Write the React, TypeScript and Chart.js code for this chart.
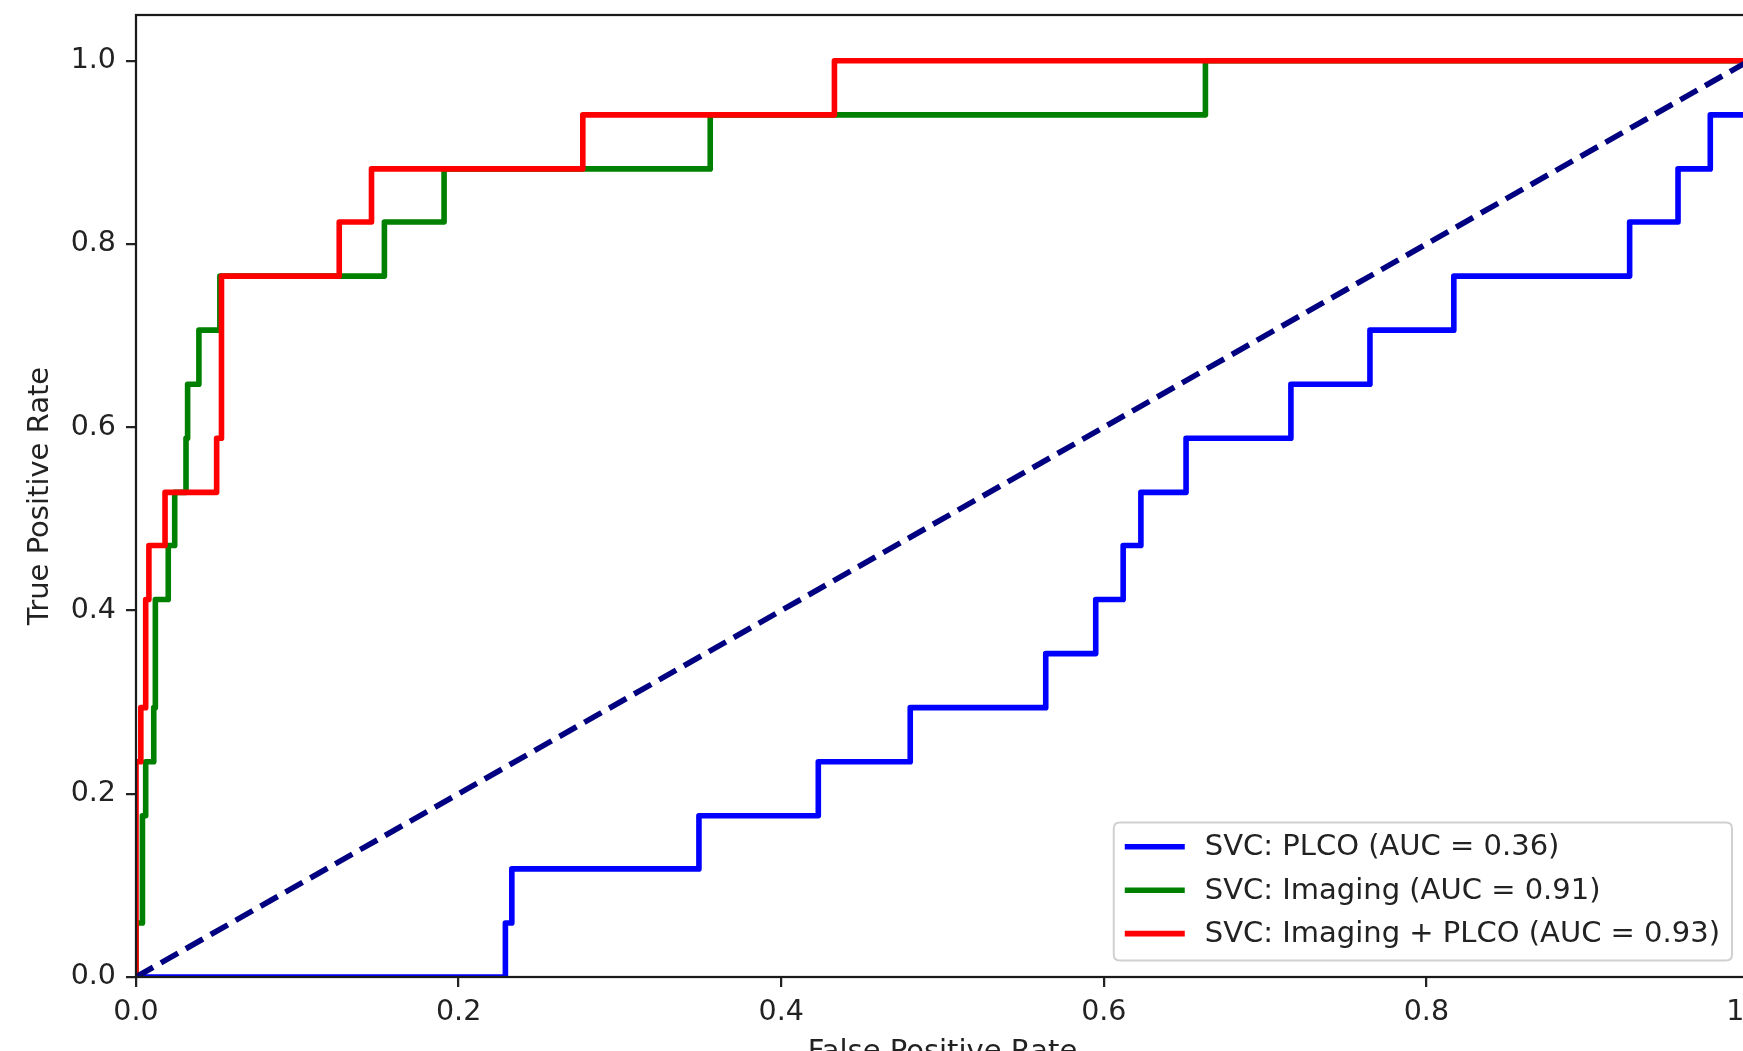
import React, { useEffect, useRef } from "react";
import { Chart, registerables } from "chart.js";

Chart.register(...registerables);

// ---- Data ----
const xTicks = [0, 0.2, 0.4, 0.6, 0.8, 1.0];
const yTicks = [0, 0.2, 0.4, 0.6, 0.8, 1.0];

const seriesLabels = [
  "SVC: PLCO (AUC = 0.36)",
  "SVC: Imaging (AUC = 0.91)",
  "SVC: Imaging + PLCO (AUC = 0.93)",
];
const seriesColors = ["#0000ff", "#008000", "#ff0000"];

const plcoFpr = [
  0, 0.229, 0.229, 0.233, 0.233, 0.349, 0.349, 0.423, 0.423, 0.48, 0.48, 0.564, 0.564,
  0.595, 0.595, 0.612, 0.612, 0.623, 0.623, 0.651, 0.651, 0.716, 0.716, 0.765, 0.765,
  0.817, 0.817, 0.926, 0.926, 0.956, 0.956, 0.976, 0.976, 1.0, 1.0,
];
const plcoTpr = [
  0, 0, 0.059, 0.059, 0.118, 0.118, 0.176, 0.176, 0.235, 0.235, 0.294, 0.294, 0.353,
  0.353, 0.412, 0.412, 0.471, 0.471, 0.529, 0.529, 0.588, 0.588, 0.647, 0.647, 0.706,
  0.706, 0.765, 0.765, 0.824, 0.824, 0.882, 0.882, 0.941, 0.941, 1.0,
];

const imagingFpr = [
  0, 0, 0.004, 0.004, 0.006, 0.006, 0.011, 0.011, 0.012, 0.012, 0.02, 0.02, 0.024, 0.024,
  0.031, 0.031, 0.032, 0.032, 0.039, 0.039, 0.052, 0.052, 0.154, 0.154, 0.191, 0.191,
  0.356, 0.356, 0.663, 0.663, 1.0,
];
const imagingTpr = [
  0, 0.059, 0.059, 0.176, 0.176, 0.235, 0.235, 0.294, 0.294, 0.412, 0.412, 0.471, 0.471,
  0.529, 0.529, 0.588, 0.588, 0.647, 0.647, 0.706, 0.706, 0.765, 0.765, 0.824, 0.824,
  0.882, 0.882, 0.941, 0.941, 1.0, 1.0,
];

const comboFpr = [
  0, 0, 0.003, 0.003, 0.006, 0.006, 0.008, 0.008, 0.018, 0.018, 0.05, 0.05, 0.053, 0.053,
  0.126, 0.126, 0.146, 0.146, 0.277, 0.277, 0.433, 0.433, 1.0,
];
const comboTpr = [
  0, 0.235, 0.235, 0.294, 0.294, 0.412, 0.412, 0.471, 0.471, 0.529, 0.529, 0.588, 0.588,
  0.765, 0.765, 0.824, 0.824, 0.882, 0.882, 0.941, 0.941, 1.0, 1.0,
];

const chanceFpr = [0, 1];
const chanceTpr = [0, 1];

const xTitle = "False Positive Rate";
const yTitle = "True Positive Rate";

const FONT = '"DejaVu Sans", "Liberation Sans", sans-serif';
const PX_PER_PT = 2.8;
const LW = 2 * PX_PER_PT;
const TICK_FONT = 28.5;
const LABEL_FONT = 29;

const toPoints = (xs: number[], ys: number[]) => xs.map((x, i) => ({ x, y: ys[i] }));

const framePlugin = {
  id: "mplFrame",
  afterDatasetsDraw(chart: any) {
    const { ctx, chartArea } = chart;
    ctx.save();
    ctx.strokeStyle = "#1a1a1a";
    ctx.lineWidth = 0.8 * PX_PER_PT;
    ctx.strokeRect(
      chartArea.left,
      chartArea.top,
      chartArea.right - chartArea.left,
      chartArea.bottom - chartArea.top
    );
    ctx.restore();
  },
};

const legendPlugin = {
  id: "mplLegend",
  afterDraw(chart: any) {
    const { ctx, chartArea } = chart;
    ctx.save();
    ctx.font = `${LABEL_FONT}px ${FONT}`;
    const textW = Math.max(...seriesLabels.map((t) => ctx.measureText(t).width));
    const padL = 11;
    const handleLen = 60;
    const gap = 20;
    const padR = 12;
    const boxW = padL + handleLen + gap + textW + padR;
    const boxH = 138;
    const right = chartArea.right - 17;
    const bottom = chartArea.bottom - 16.6;
    const left = right - boxW;
    const top = bottom - boxH;
    const r = 6;
    ctx.beginPath();
    ctx.moveTo(left + r, top);
    ctx.lineTo(right - r, top);
    ctx.quadraticCurveTo(right, top, right, top + r);
    ctx.lineTo(right, bottom - r);
    ctx.quadraticCurveTo(right, bottom, right - r, bottom);
    ctx.lineTo(left + r, bottom);
    ctx.quadraticCurveTo(left, bottom, left, bottom - r);
    ctx.lineTo(left, top + r);
    ctx.quadraticCurveTo(left, top, left + r, top);
    ctx.closePath();
    ctx.fillStyle = "rgba(255,255,255,0.8)";
    ctx.fill();
    ctx.strokeStyle = "#d0d0d0";
    ctx.lineWidth = 2;
    ctx.stroke();

    seriesLabels.forEach((label, i) => {
      const y = top + 24.4 + i * 43.4;
      ctx.beginPath();
      ctx.strokeStyle = seriesColors[i];
      ctx.lineWidth = LW;
      ctx.lineCap = "butt";
      ctx.moveTo(left + padL, y);
      ctx.lineTo(left + padL + handleLen, y);
      ctx.stroke();
      ctx.fillStyle = "#222";
      ctx.textBaseline = "middle";
      ctx.textAlign = "left";
      ctx.fillText(label, left + padL + handleLen + gap, y + 1);
    });
    ctx.restore();
  },
};

export default function App() {
  const ref = useRef<HTMLCanvasElement>(null);

  useEffect(() => {
    const canvas = ref.current;
    if (!canvas) return;
    const common = {
      pointRadius: 0,
      pointHoverRadius: 0,
      fill: false,
      tension: 0,
      clip: 0,
      borderWidth: LW,
      borderJoinStyle: "round" as const,
    };
    const chart = new Chart(canvas, {
      type: "line",
      data: {
        datasets: [
          {
            ...common,
            label: "chance",
            data: toPoints(chanceFpr, chanceTpr),
            borderColor: "#000080",
            borderDash: [2 * 3.7 * PX_PER_PT * 0.95, 2 * 1.6 * PX_PER_PT],
            borderCapStyle: "butt",
            order: 0,
          },
          {
            ...common,
            label: seriesLabels[2],
            data: toPoints(comboFpr, comboTpr),
            borderColor: seriesColors[2],
            order: 1,
          },
          {
            ...common,
            label: seriesLabels[1],
            data: toPoints(imagingFpr, imagingTpr),
            borderColor: seriesColors[1],
            order: 2,
          },
          {
            ...common,
            label: seriesLabels[0],
            data: toPoints(plcoFpr, plcoTpr),
            borderColor: seriesColors[0],
            order: 3,
          },
        ],
      },
      options: {
        responsive: false,
        animation: false,
        devicePixelRatio: 1,
        events: [],
        layout: { padding: { left: 0, top: 15, right: 51, bottom: 0 } },
        plugins: {
          legend: { display: false },
          tooltip: { enabled: false },
          title: { display: false },
        },
        scales: {
          x: {
            type: "linear",
            min: 0,
            max: 1,
            afterBuildTicks: (scale: any) => {
              scale.ticks = xTicks.map((v) => ({ value: v }));
            },
            afterFit: (scale: any) => {
              scale.height = 123;
              scale.paddingLeft = 0;
              scale.paddingRight = 0;
            },
            ticks: {
              callback: (v: any) => Number(v).toFixed(1),
              font: { family: FONT, size: TICK_FONT },
              color: "#222",
              padding: 8,
              maxRotation: 0,
              autoSkip: false,
            },
            grid: {
              display: true,
              drawOnChartArea: false,
              drawTicks: true,
              tickLength: 10,
              color: "#222",
              lineWidth: 0.8 * PX_PER_PT,
            },
            border: { display: false },
            title: {
              display: true,
              text: xTitle,
              font: { family: FONT, size: LABEL_FONT },
              color: "#222",
              padding: { top: 0, bottom: 30 },
            },
          },
          y: {
            type: "linear",
            min: 0,
            max: 1.05,
            afterBuildTicks: (scale: any) => {
              scale.ticks = yTicks.map((v) => ({ value: v }));
            },
            afterFit: (scale: any) => {
              scale.width = 136;
              scale.paddingTop = 0;
              scale.paddingBottom = 0;
            },
            ticks: {
              callback: (v: any) => Number(v).toFixed(1),
              font: { family: FONT, size: TICK_FONT },
              color: "#222",
              padding: 10,
              autoSkip: false,
            },
            grid: {
              display: true,
              drawOnChartArea: false,
              drawTicks: true,
              tickLength: 10,
              color: "#222",
              lineWidth: 0.8 * PX_PER_PT,
            },
            border: { display: false },
            title: {
              display: true,
              text: yTitle,
              font: { family: FONT, size: LABEL_FONT },
              color: "#222",
              padding: { top: 22.6, bottom: 0 },
            },
          },
        },
      },
      plugins: [framePlugin, legendPlugin],
    });
    return () => chart.destroy();
  }, []);

  return (
    <div
      style={{
        position: "fixed",
        left: 0,
        top: 0,
        width: 1743,
        height: 1051,
        overflow: "hidden",
        background: "#ffffff",
      }}
    >
      <canvas
        ref={ref}
        width={1800}
        height={1100}
        style={{ display: "block", width: 1800, height: 1100 }}
      />
    </div>
  );
}
